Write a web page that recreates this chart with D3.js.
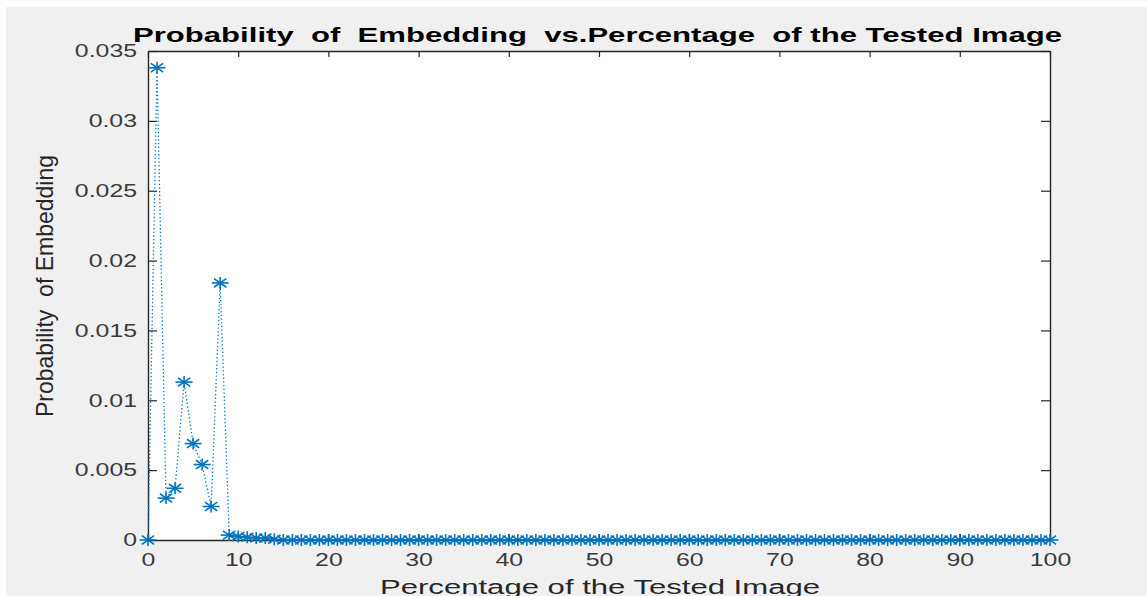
<!DOCTYPE html>
<html>
<head>
<meta charset="utf-8">
<script src="https://cdn.jsdelivr.net/npm/d3@7/dist/d3.min.js"></script>
<style>
  html, body { margin: 0; padding: 0; background: #ffffff; }
  svg { display: block; }
  text { font-family: "Liberation Sans", Arial, sans-serif; white-space: pre; }
</style>
</head>
<body>
<svg id="chart" width="1147" height="596"></svg>
<script>
// Percentage of the tested image (x) and the probability of embedding (y)
const percents = [
  0, 1, 2, 3, 4, 5, 6, 7, 8, 9, 10, 11, 12, 13, 14, 15, 16, 17, 18, 19,
  20, 21, 22, 23, 24, 25, 26, 27, 28, 29, 30, 31, 32, 33, 34, 35, 36, 37, 38, 39,
  40, 41, 42, 43, 44, 45, 46, 47, 48, 49, 50, 51, 52, 53, 54, 55, 56, 57, 58, 59,
  60, 61, 62, 63, 64, 65, 66, 67, 68, 69, 70, 71, 72, 73, 74, 75, 76, 77, 78, 79,
  80, 81, 82, 83, 84, 85, 86, 87, 88, 89, 90, 91, 92, 93, 94, 95, 96, 97, 98, 99, 100
];
const probabilities = [
  0, 0.0338, 0.0030, 0.0037, 0.0113, 0.0069, 0.0054, 0.0024, 0.0184, 0.00035,
  0.00025, 0.0002, 0.00015, 0.00015, 0.00005, 0, 0, 0, 0, 0,
  0, 0, 0, 0, 0, 0, 0, 0, 0, 0,
  0, 0, 0, 0, 0, 0, 0, 0, 0, 0,
  0, 0, 0, 0, 0, 0, 0, 0, 0, 0,
  0, 0, 0, 0, 0, 0, 0, 0, 0, 0,
  0, 0, 0, 0, 0, 0, 0, 0, 0, 0,
  0, 0, 0, 0, 0, 0, 0, 0, 0, 0,
  0, 0, 0, 0, 0, 0, 0, 0, 0, 0,
  0, 0, 0, 0, 0, 0, 0, 0, 0, 0,
  0
];
const xTicks = [0, 10, 20, 30, 40, 50, 60, 70, 80, 90, 100];
const yTicks = [0, 0.005, 0.01, 0.015, 0.02, 0.025, 0.03, 0.035];
const yTickLabels = ["0", "0.005", "0.01", "0.015", "0.02", "0.025", "0.03", "0.035"];

const titleText = "Probability  of  Embedding  vs.Percentage  of the Tested Image";
const xLabelText = "Percentage of the Tested Image";
const yLabelText = "Probability  of Embedding";

const W = 1147, H = 596;
const plot = { left: 148, right: 1050, top: 51, bottom: 540 };
const axisColor = "#262626";
const lineColor = "#0072BD";
const widen = 1.38;   // text is drawn wider than its natural width

const svg = d3.select("#chart");

// figure background
svg.append("rect").attr("x", 6).attr("y", 7).attr("width", W - 6).attr("height", H - 7)
  .attr("fill", "#f0f0f0");
svg.append("rect").attr("x", plot.left).attr("y", plot.top)
  .attr("width", plot.right - plot.left).attr("height", plot.bottom - plot.top)
  .attr("fill", "#ffffff");

const x = d3.scaleLinear().domain([0, 100]).range([plot.left, plot.right]);
const y = d3.scaleLinear().domain([0, 0.035]).range([plot.bottom, plot.top]);

function stretch(sel, k) {
  sel.each(function () {
    const len = this.getComputedTextLength();
    d3.select(this).attr("textLength", len * k).attr("lengthAdjust", "spacingAndGlyphs");
  });
}

// axes with inward ticks
const xAxisB = d3.axisBottom(x).tickValues(xTicks).tickSizeInner(-6).tickSizeOuter(0).tickPadding(14);
const xAxisT = d3.axisTop(x).tickValues(xTicks).tickSizeInner(-6).tickSizeOuter(0).tickFormat("");
const yAxisL = d3.axisLeft(y).tickValues(yTicks).tickSizeInner(-9).tickSizeOuter(0).tickPadding(20)
  .tickFormat((d, i) => yTickLabels[i]);
const yAxisR = d3.axisRight(y).tickValues(yTicks).tickSizeInner(-9).tickSizeOuter(0).tickFormat("");

function styleAxis(g) {
  g.select(".domain").attr("stroke", axisColor).attr("stroke-width", 1.4);
  g.selectAll(".tick line").attr("stroke", axisColor).attr("stroke-width", 1.2);
  g.selectAll(".tick text").attr("fill", "#3a3a3a").attr("font-size", 18)
    .attr("font-family", "Liberation Sans, Arial, sans-serif");
}

const gxb = svg.append("g").attr("transform", `translate(0,${plot.bottom})`).call(xAxisB).call(styleAxis);
gxb.selectAll(".tick text").attr("dy", "0.71em").attr("y", 13).call(stretch, widen);
svg.append("g").attr("transform", `translate(0,${plot.top})`).call(xAxisT).call(styleAxis);
const gyl = svg.append("g").attr("transform", `translate(${plot.left},0)`).call(yAxisL).call(styleAxis);
gyl.selectAll(".tick text").attr("x", -11).call(stretch, widen);
svg.append("g").attr("transform", `translate(${plot.right},0)`).call(yAxisR).call(styleAxis);

// dotted series line
const pts = percents.map((p, i) => [p, probabilities[i]]);
svg.append("path")
  .datum(pts)
  .attr("fill", "none")
  .attr("stroke", lineColor)
  .attr("stroke-width", 1.3)
  .attr("stroke-dasharray", "1.3,2.4")
  .attr("d", d3.line().x(d => x(d[0])).y(d => y(d[1])));

// asterisk markers
const rx = 8.5, ry = 6;
const marker = svg.append("g").selectAll("g").data(pts).join("g")
  .attr("transform", d => `translate(${x(d[0])},${y(d[1])})`)
  .attr("stroke", lineColor).attr("stroke-width", 1.6);
marker.append("line").attr("x1", -rx).attr("x2", rx).attr("y1", 0).attr("y2", 0);
marker.append("line").attr("x1", 0).attr("x2", 0).attr("y1", -ry).attr("y2", ry);
marker.append("line").attr("x1", -rx * 0.72).attr("x2", rx * 0.72).attr("y1", -ry * 0.72).attr("y2", ry * 0.72);
marker.append("line").attr("x1", -rx * 0.72).attr("x2", rx * 0.72).attr("y1", ry * 0.72).attr("y2", -ry * 0.72);

// title
svg.append("text")
  .attr("x", 597.5).attr("y", 42)
  .attr("text-anchor", "middle")
  .attr("font-size", 21).attr("font-weight", "bold").attr("fill", "#000000")
  .attr("textLength", 929).attr("lengthAdjust", "spacingAndGlyphs")
  .text(titleText);

// x axis label
svg.append("text")
  .attr("x", 600).attr("y", 594)
  .attr("text-anchor", "middle")
  .attr("font-size", 20).attr("fill", "#262626")
  .attr("textLength", 440).attr("lengthAdjust", "spacingAndGlyphs")
  .text(xLabelText);

// y axis label
svg.append("text")
  .attr("transform", "translate(53,286) rotate(-90)")
  .attr("text-anchor", "middle")
  .attr("font-size", 24).attr("fill", "#262626")
  .attr("textLength", 262).attr("lengthAdjust", "spacingAndGlyphs")
  .text(yLabelText);
</script>
</body>
</html>
